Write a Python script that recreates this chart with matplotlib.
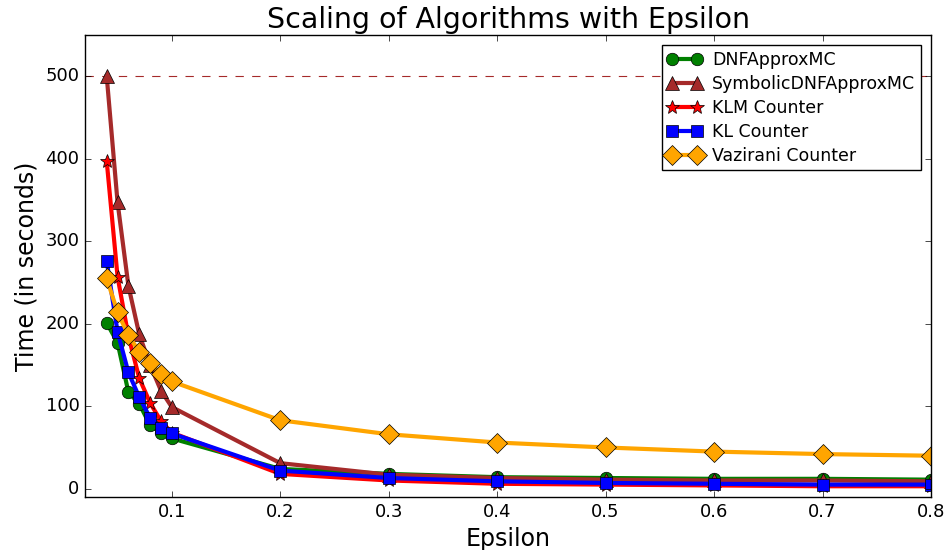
import matplotlib
matplotlib.use("Agg")
import matplotlib.pyplot as plt

plt.style.use('classic')

eps = [0.04, 0.05, 0.06, 0.07, 0.08, 0.09, 0.1, 0.2, 0.3, 0.4, 0.5, 0.6, 0.7, 0.8]

dnf_approx = [201, 177, 117, 103, 77, 68, 61, 24, 18, 14, 13, 12, 12, 11]
symbolic_dnf = [500, 347, 246, 187, 150, 119, 99, 31, 17, 13, 11, 10, 10, 9]
klm_counter = [397, 257, 185, 134, 104, 82, 68, 18, 10, 6, 5, 4, 3, 3]
kl_counter = [276, 190, 141, 111, 86, 74, 67, 22, 13, 9, 7, 6, 5, 5]
vazirani = [255, 214, 186, 166, 152, 139, 130, 83, 66, 56, 50, 45, 42, 40]

timeout = 500

fig = plt.figure(figsize=(9.5, 5.5), dpi=100)
ax = fig.add_axes([0.0895, 0.0964, 0.8905, 0.84])

ax.axhline(timeout, color='brown', linestyle='--', linewidth=0.8)

ax.plot(eps, dnf_approx, color='green', marker='o', markersize=9, linewidth=3, label='DNFApproxMC')
ax.plot(eps, symbolic_dnf, color='brown', marker='^', markersize=10, linewidth=3, label='SymbolicDNFApproxMC')
ax.plot(eps, klm_counter, color='red', marker='*', markersize=10, linewidth=3, label='KLM Counter')
ax.plot(eps, kl_counter, color='blue', marker='s', markersize=9, linewidth=3, label='KL Counter')
ax.plot(eps, vazirani, color='orange', marker='D', markersize=10, linewidth=3, label='Vazirani Counter')

ax.set_xlim(0.02, 0.8)
ax.set_ylim(-10, 550)
ax.set_xticks([0.1, 0.2, 0.3, 0.4, 0.5, 0.6, 0.7, 0.8])
ax.set_yticks([0, 100, 200, 300, 400, 500])
ax.tick_params(labelsize=13)

ax.set_title('Scaling of Algorithms with Epsilon', fontsize=20.5)
ax.set_xlabel('Epsilon', fontsize=17)
ax.set_ylabel('Time (in seconds)', fontsize=17)
ax.legend(loc='upper right', fontsize=12.5, labelspacing=0.35, borderpad=0.3,
          handletextpad=0.6, borderaxespad=0.6)

fig.savefig('out.png', dpi=100)
